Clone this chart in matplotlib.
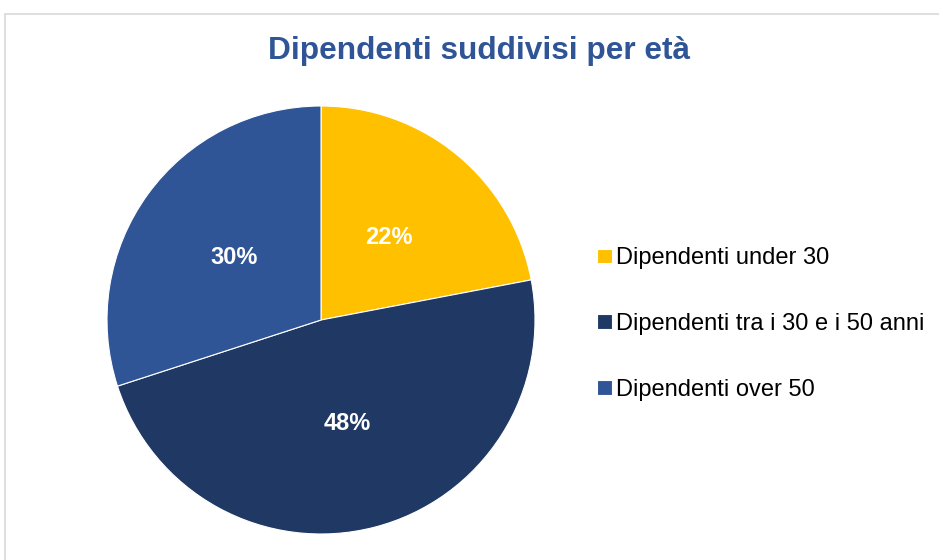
import matplotlib

matplotlib.use("Agg")
import matplotlib.pyplot as plt
from matplotlib.patches import Rectangle

plt.rcParams["font.family"] = ["Liberation Sans", "DejaVu Sans"]

TITLE = "Dipendenti suddivisi per età"
labels = ["Dipendenti under 30", "Dipendenti tra i 30 e i 50 anni", "Dipendenti over 50"]
shares = [22, 48, 30]
colors = ["#FFC000", "#203864", "#2F5597"]

W, H = 939, 560
fig = plt.figure(figsize=(W / 100, H / 100), dpi=100)

# light grey chart-area border (cropped on the right and bottom)
fig.patches.append(Rectangle((4.5 / W, -0.1), 1.2, 1 - 13.5 / H + 0.1, transform=fig.transFigure,
                             fill=False, edgecolor="#D9D9D9", lw=1.2))

# pie: centre (321, 320) px, radius 214 px
cx, cy, r = 321, 320, 214
ax = fig.add_axes([(cx - r) / W, (H - cy - r) / H, 2 * r / W, 2 * r / H])
wedges, _, autotexts = ax.pie(shares, colors=colors, startangle=90, counterclock=False,
                              autopct="%1.0f%%", pctdistance=0.5, radius=1.0,
                              wedgeprops=dict(linewidth=0.8, edgecolor="white"))
for t in autotexts:
    t.set(color="white", fontsize=17, fontweight="bold")
ax.set(xlim=(-1, 1), ylim=(-1, 1), aspect="equal")

fig.text(479 / W, 1 - 51 / H, TITLE, ha="center", va="center", fontsize=22.8,
         fontweight="bold", color="#2F5597")

fig.legend(wedges, labels, loc="center left", bbox_to_anchor=(588 / W, 1 - 324 / H),
           frameon=False, fontsize=17, handlelength=0.6, handleheight=0.6,
           handletextpad=0.2, labelspacing=1.85, borderaxespad=0)

fig.savefig("out.png", dpi=100)
